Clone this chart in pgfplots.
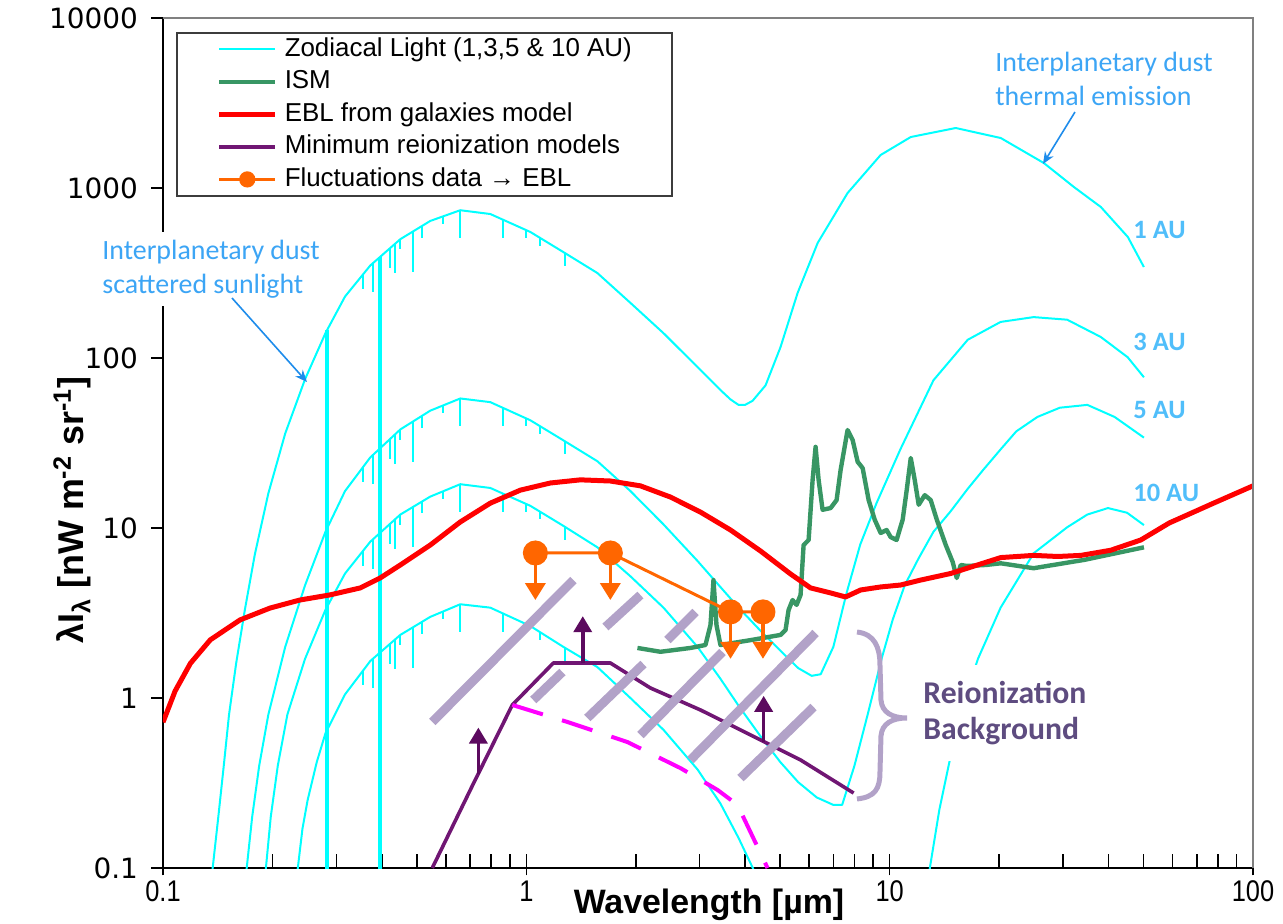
\documentclass[border=0pt]{standalone}
\usepackage{pgfplots}
\pgfplotsset{compat=1.18}
\usepackage{fontspec}
\setmainfont{Liberation Sans}
\newfontfamily\carlito{Carlito}
\newfontfamily\dejavu{DejaVu Sans}
\newfontfamily\narrowsans{Liberation Sans}[FakeStretch=0.85]
\usetikzlibrary{arrows.meta}

\definecolor{zodi}{RGB}{0,255,255}
\definecolor{ism}{RGB}{56,150,100}
\definecolor{ebl}{RGB}{255,0,0}
\definecolor{reion}{RGB}{112,22,115}
\definecolor{reionarr}{RGB}{92,10,95}
\definecolor{fluct}{RGB}{255,102,0}
\definecolor{magen}{RGB}{255,0,255}
\definecolor{lav}{RGB}{178,162,200}
\definecolor{annot}{RGB}{60,165,245}
\definecolor{aulab}{RGB}{80,190,250}
\definecolor{arrowblue}{RGB}{30,140,235}
\definecolor{reiontxt}{RGB}{94,76,128}
\definecolor{framegray}{RGB}{128,128,128}

\begin{document}
\begin{tikzpicture}
\begin{axis}[
  scale only axis, width=545bp, height=425bp,
  xmode=log, ymode=log,
  xmin=0.1, xmax=100, ymin=0.1, ymax=10000,
  axis lines*=left,
  axis line style={black, line width=0.9bp},
  xtick={0.1,1,10,100}, xticklabels={0.1,1,10,100},
  ytick={0.1,1,10,100,1000,10000}, yticklabels={0.1,1,10,100,1000,10000},
  yminorticks=false,
  tick align=center,
  major tick length=6bp,
  minor tick length=7bp,
  tick style={black, line width=0.8bp},
  minor x tick style={yshift=3.5bp},
  major x tick style={yshift=-0.75bp},
  major y tick style={xshift=-3bp},
  xticklabel style={font=\narrowsans\fontsize{15}{18}\selectfont},
  yticklabel style={font=\dejavu\fontsize{14}{17}\selectfont, xshift=-6bp},
  legend style={at={(rel axis cs:0.0119,0.9835)}, anchor=north west,
    draw={rgb,255:red,60;green,60;blue,60}, line width=0.8bp, fill=white,
    inner xsep=20bp, inner ysep=2bp,
    font=\fontsize{13}{15}\selectfont, row sep=3.65bp,
    nodes={inner sep=0pt, text height=9.8bp, text depth=2.8bp},
    /tikz/every odd column/.append style={column sep=3.5bp}},
  legend cell align=left,
  legend image code/.code={\draw[mark repeat=2,mark phase=2] plot coordinates {(0bp,0bp) (14bp,0bp) (28bp,0bp)};},
]
\coordinate (SW) at (rel axis cs:0,0);
\coordinate (NE) at (rel axis cs:1,1);

\addlegendimage{zodi, line width=1bp}
\addlegendentry{Zodiacal Light (1,3,5 \& 10 AU)\hspace{7bp}}
\addlegendimage{ism, line width=2.2bp}
\addlegendentry{ISM}
\addlegendimage{ebl, line width=2.5bp}
\addlegendentry{EBL from galaxies model}
\addlegendimage{reion, line width=2.2bp}
\addlegendentry{Minimum reionization models}
\addlegendimage{fluct, line width=1.5bp, mark=*, mark size=3.3bp, mark options={fill=fluct, draw=fluct}}
\addlegendentry{Fluctuations data → EBL}

% ---------------- Zodiacal light, 1 AU
\addplot[zodi, line width=1bp, line join=round, forget plot] coordinates {
(0.136,0.09)(0.137,0.1)(0.142,0.2)(0.147,0.4)(0.152,0.8)(0.159,1.6)(0.168,3.3)(0.179,7)(0.195,16)
(0.217,36)(0.246,75)(0.28,140)(0.317,230)(0.372,350)(0.45,500)(0.544,640)(0.658,740)(0.796,703)
(1.026,551)(1.264,420)(1.569,316)(1.934,211)(2.385,140)(2.959,88.5)(3.422,64.8)(3.65,57)(3.837,53)
(4.0,53)(4.195,56)(4.554,69)(5.008,116)(5.579,241)(6.336,475)(7.66,934)(9.445,1564)(11.43,1995)
(15.2,2254)(20.22,1968)(26.56,1403)(32.13,1014)(38.14,773)(45.24,515)(50.08,343)};
% ---------------- 3 AU
\addplot[zodi, line width=1bp, line join=round, forget plot] coordinates {
(0.169,0.09)(0.170,0.1)(0.176,0.2)(0.184,0.4)(0.195,0.8)(0.217,2.0)(0.246,4.6)(0.28,9.5)(0.317,16.5)
(0.372,26)(0.45,38)(0.544,49)(0.658,57.8)(0.796,55)(1.026,43)(1.264,32.8)(1.569,24.7)(1.934,16.5)
(2.385,10.5)(2.959,6.4)(3.42,4.5)(3.84,3.4)(4.4,2.5)(5.0,1.9)(5.6,1.5)(6.1,1.35)(6.46,1.38)(7.0,2.0)
(7.6,4.1)(8.3,8)(9.2,14)(10.7,29)(13.2,74)(16.4,128)(20.2,163)(24.9,174)(30.8,168)(38.1,133)
(45.2,101)(50.1,77)};
% ---------------- 5 AU
\addplot[zodi, line width=1bp, line join=round, forget plot] coordinates {
(0.191,0.09)(0.192,0.1)(0.198,0.2)(0.207,0.4)(0.22,0.8)(0.246,1.7)(0.28,3.3)(0.317,5.4)(0.372,8.3)
(0.45,12)(0.544,15.3)(0.658,18.1)(0.796,17.2)(1.026,13.5)(1.264,10.3)(1.569,7.7)(1.934,5.2)(2.385,3.4)
(2.959,2.0)(3.42,1.3)(3.84,0.9)(4.4,0.6)(5.0,0.42)(5.6,0.32)(6.3,0.26)(7.0,0.235)(7.4,0.235)(8.0,0.4)
(8.7,0.8)(9.5,1.7)(10.2,2.9)(11.0,4.6)(12.0,6.6)(13.2,9.5)(14.7,12.5)(16.4,17)(18.1,22)(20.2,29)
(22.3,37)(25.5,45)(29.4,51)(35,53)(41.6,45)(50.1,34)};
% ---------------- 10 AU
\addplot[zodi, line width=1bp, line join=round, forget plot] coordinates {
(0.233,0.085)(0.235,0.1)(0.242,0.17)(0.25,0.25)(0.265,0.42)(0.28,0.62)(0.317,1.05)(0.372,1.65)
(0.45,2.35)(0.544,3.0)(0.658,3.56)(0.796,3.4)(1.026,2.65)(1.264,2.0)(1.569,1.52)(1.934,1.0)
(2.385,0.65)(2.959,0.38)(3.42,0.24)(3.84,0.15)(4.2,0.1)(4.5,0.07)};
\addplot[zodi, line width=1bp, line join=round, forget plot] coordinates {
(12.7,0.08)(12.9,0.1)(13.7,0.22)(14.7,0.45)(16.0,0.95)(17.5,1.7)(20.2,3.4)(24.9,7.1)(30.8,10.1)
(35,12)(39.9,13.1)(45,12.3)(50.1,10.4)};
% ---------------- absorption lines
\addplot[zodi, line width=1bp, forget plot, unbounded coords=jump] coordinates {
(0.355,310)(0.355,254)(0.355,nan)(0.379,362)(0.379,243)(0.379,nan)(0.422,444)(0.422,337)(0.422,nan)
(0.435,470)(0.435,315)(0.435,nan)(0.45,500)(0.45,435)(0.45,nan)(0.488,556)(0.488,322)(0.488,nan)
(0.517,599)(0.517,509)(0.517,nan)(0.59,681)(0.59,613)(0.59,nan)(0.658,740)(0.658,511)(0.658,nan)
(0.86,653)(0.86,509)(0.86,nan)(1.0,565)(1.0,509)(1.0,nan)(1.09,509)(1.09,458)(1.09,nan)(1.28,413)(1.28,347)(1.28,nan)
(0.355,22.8)(0.355,18.7)(0.355,nan)(0.379,27.0)(0.379,18.1)(0.379,nan)(0.422,33.4)(0.422,25.4)(0.422,nan)
(0.435,35.5)(0.435,23.8)(0.435,nan)(0.45,38)(0.45,33.1)(0.45,nan)(0.488,42.4)(0.488,24.6)(0.488,nan)
(0.517,45.8)(0.517,38.9)(0.517,nan)(0.59,52.6)(0.59,47.3)(0.59,nan)(0.658,57.8)(0.658,39.9)(0.658,nan)
(0.86,51.0)(0.86,39.8)(0.86,nan)(1.0,44.1)(1.0,39.7)(1.0,nan)(1.09,39.8)(1.09,35.8)(1.09,nan)(1.28,32.3)(1.28,27.1)(1.28,nan)
(0.355,7.32)(0.355,6.0)(0.355,nan)(0.379,8.61)(0.379,5.77)(0.379,nan)(0.422,10.6)(0.422,8.06)(0.422,nan)
(0.435,11.24)(0.435,7.53)(0.435,nan)(0.45,12)(0.45,10.4)(0.45,nan)(0.488,13.3)(0.488,7.71)(0.488,nan)
(0.517,14.3)(0.517,12.2)(0.517,nan)(0.59,16.4)(0.59,14.8)(0.59,nan)(0.658,18.1)(0.658,12.5)(0.658,nan)
(0.86,16.0)(0.86,12.5)(0.86,nan)(1.0,13.8)(1.0,12.4)(1.0,nan)(1.09,12.5)(1.09,11.25)(1.09,nan)(1.28,10.1)(1.28,8.48)(1.28,nan)
(0.355,1.446)(0.355,1.19)(0.355,nan)(0.379,1.708)(0.379,1.14)(0.379,nan)(0.422,2.086)(0.422,1.59)(0.422,nan)
(0.435,2.208)(0.435,1.48)(0.435,nan)(0.45,2.35)(0.45,2.04)(0.45,nan)(0.488,2.61)(0.488,1.51)(0.488,nan)
(0.517,2.81)(0.517,2.39)(0.517,nan)(0.59,3.23)(0.59,2.91)(0.59,nan)(0.658,3.56)(0.658,2.46)(0.658,nan)
(0.86,3.15)(0.86,2.46)(0.86,nan)(1.0,2.72)(1.0,2.45)(1.0,nan)(1.09,2.44)(1.09,2.2)(1.09,nan)(1.28,1.97)(1.28,1.65)};
\addplot[zodi, line width=2.2bp, forget plot, unbounded coords=jump] coordinates {
(0.283,146)(0.283,0.05)(0.283,nan)(0.395,392)(0.395,0.05)};

% ---------------- ISM
\addplot[ism, line width=2.2bp, line join=round, forget plot] coordinates {
(2.022,1.97)(2.339,1.87)(2.830,1.97)(3.112,2.05)(3.213,2.69)(3.274,4.94)(3.337,2.69)(3.422,2.05)
(4.141,2.19)(5.008,2.35)(5.169,2.51)(5.269,3.29)(5.405,3.77)(5.544,3.53)(5.686,4.04)(5.796,7.94)
(5.983,8.5)(6.137,19.2)(6.254,30.0)(6.374,19.2)(6.538,12.8)(6.877,13.1)(7.145,14.6)(7.328,21.9)
(7.660,37.7)(7.910,32.9)(8.165,24.5)(8.427,22.5)(8.753,14.6)(9.094,11.2)(9.445,9.35)(9.810,9.73)
(10.06,8.85)(10.45,8.5)(10.86,11.2)(11.14,16.7)(11.43,25.8)(11.72,19.2)(12.02,13.7)(12.49,15.6)
(12.97,14.6)(13.48,11.2)(14.27,7.94)(14.91,6.31)(15.30,5.08)(15.69,6.06)(16.30,5.98)(18.39,6.06)
(20.22,6.2)(24.9,5.8)(34.4,6.5)(50.1,7.7)};

% ---------------- EBL
\addplot[ebl, line width=2.5bp, line join=round, forget plot] coordinates {
(0.1,0.72)(0.108,1.1)(0.119,1.6)(0.135,2.2)(0.163,2.88)(0.197,3.38)(0.238,3.77)(0.288,4.04)
(0.349,4.44)(0.396,5.08)(0.45,6.06)(0.544,7.94)(0.658,10.85)(0.796,14.0)(0.963,16.7)(1.165,18.4)
(1.409,19.2)(1.703,18.9)(2.061,17.7)(2.494,15.2)(3.016,12.4)(3.648,9.73)(4.413,7.32)(5.339,5.36)
(6.059,4.44)(6.877,4.15)(7.563,3.93)(8.32,4.32)(9.445,4.5)(10.72,4.62)(12.17,4.94)(14.72,5.4)
(20.22,6.7)(24.9,6.9)(29,6.8)(33.6,6.9)(40.6,7.4)(49.1,8.5)(58.8,10.7)(77.9,14.0)(100,17.7)};

% ---------------- minimum reionization models
\addplot[reion, line width=1.8bp, line join=round, forget plot] coordinates {
(0.551,0.1)(0.710,0.304)(0.915,0.91)(1.187,1.607)(1.703,1.607)(2.196,1.145)(3.016,0.850)
(4.141,0.606)(5.686,0.432)(7.96,0.276)};
\addplot[magen, line width=2bp, dash pattern=on 16bp off 10bp, forget plot] coordinates {
(0.915,0.91)(1.297,0.723)(1.897,0.551)(2.656,0.387)(3.358,0.288)(3.814,0.235)(4.612,0.1)};

% ---------------- reionization background hatching
\addplot[lav, line width=4.5bp, forget plot, unbounded coords=jump] coordinates {
(0.551,0.723)(1.348,4.944)(1.348,nan)
(1.045,0.973)(1.257,1.422)(1.257,nan)
(1.651,2.616)(2.061,4.035)(2.061,nan)
(1.472,0.763)(2.101,1.585)(2.101,nan)
(2.445,2.193)(2.922,3.206)(2.922,nan)
(2.061,0.606)(3.467,1.865)(3.467,nan)
(2.830,0.432)(6.254,2.412)(6.254,nan)
(3.886,0.338)(6.174,0.885)};

% ---------------- lower-limit arrows
\addplot[reionarr, line width=1.8bp, -{Triangle[length=8bp,width=9bp]}, forget plot] coordinates {(0.738,0.355)(0.738,0.67)};
\addplot[reionarr, line width=1.8bp, -{Triangle[length=8bp,width=9bp]}, forget plot] coordinates {(1.43,1.607)(1.43,3.03)};
\addplot[reionarr, line width=1.8bp, -{Triangle[length=8bp,width=9bp]}, forget plot] coordinates {(4.5,0.554)(4.5,1.03)};

% ---------------- fluctuations data
\addplot[fluct, line width=1.8bp, -{Triangle[length=8.5bp,width=10bp]}, forget plot] coordinates {(1.059,7.13)(1.059,3.77)};
\addplot[fluct, line width=1.8bp, -{Triangle[length=8.5bp,width=10bp]}, forget plot] coordinates {(1.703,7.13)(1.703,3.77)};
\addplot[fluct, line width=1.8bp, -{Triangle[length=8.5bp,width=10bp]}, forget plot] coordinates {(3.648,3.21)(3.648,1.70)};
\addplot[fluct, line width=1.8bp, -{Triangle[length=8.5bp,width=10bp]}, forget plot] coordinates {(4.48,3.21)(4.48,1.70)};
\addplot[fluct, line width=1.5bp, mark=*, mark size=5.5bp, mark options={solid, fill=fluct, draw=fluct}, forget plot] coordinates {
(1.059,7.13)(1.703,7.13)(3.648,3.21)(4.48,3.21)};
\end{axis}

% plot-area frame (top and right in grey)
\draw[framegray, line width=0.8bp] (SW|-NE) -- (NE) -- (NE|-SW);

% annotations in image-pixel coordinates
\begin{scope}[shift={(SW)}, x=0.5bp, y=-0.5bp, shift={(-163,-868)}]
\node[anchor=west, align=left, font=\carlito\fontsize{14}{17}\selectfont, text=annot, fill=white, inner xsep=2bp, inner ysep=4bp] at (98,269) {Interplanetary dust\\scattered sunlight};
\node[anchor=west, align=left, font=\carlito\fontsize{14}{17}\selectfont, text=annot, inner xsep=2bp] at (991,79) {Interplanetary dust\\thermal emission};
\draw[arrowblue, line width=0.8bp, -{Stealth[length=6bp,width=5bp]}] (232,298) -- (307,382);
\draw[arrowblue, line width=0.8bp, -{Stealth[length=6bp,width=5bp]}] (1075,112) -- (1043,164);
\node[anchor=west, font=\carlito\bfseries\fontsize{13.3}{15}\selectfont, text=aulab, inner sep=0pt] at (1133,230) {1 AU};
\node[anchor=west, font=\carlito\bfseries\fontsize{13.3}{15}\selectfont, text=aulab, inner sep=0pt] at (1133,342) {3 AU};
\node[anchor=west, font=\carlito\bfseries\fontsize{13.3}{15}\selectfont, text=aulab, inner sep=0pt] at (1133,410) {5 AU};
\node[anchor=west, font=\carlito\bfseries\fontsize{13.3}{15}\selectfont, text=aulab, inner sep=0pt] at (1133,493) {10 AU};
\node[anchor=west, align=left, font=\carlito\bfseries\fontsize{15.9}{18.5}\selectfont, text=reiontxt, fill=white, inner xsep=4bp, inner ysep=8bp] at (915,713) {Reionization\\Background};
\draw[lav, line width=2.5bp] (857,632) .. controls (875,634) and (880,648) .. (880,665) -- (881,700)
  .. controls (882,713) and (893,718) .. (907,718) .. controls (893,718) and (882,723) .. (881,736)
  -- (880,772) .. controls (880,789) and (875,797) .. (857,799);
\node[font=\bfseries\fontsize{17}{20}\selectfont] at (709,905) {Wavelength [µm]};
\node[rotate=90, font=\bfseries\fontsize{18}{21}\selectfont] at (72,510) {λI\textsubscript{λ} [nW m\textsuperscript{-2} sr\textsuperscript{-1}]};
\end{scope}

\pgfresetboundingbox
\path[use as bounding box] ([shift={(-81.5bp,-28bp)}]SW) rectangle ([shift={(15bp,9bp)}]NE);
\end{tikzpicture}
\end{document}
